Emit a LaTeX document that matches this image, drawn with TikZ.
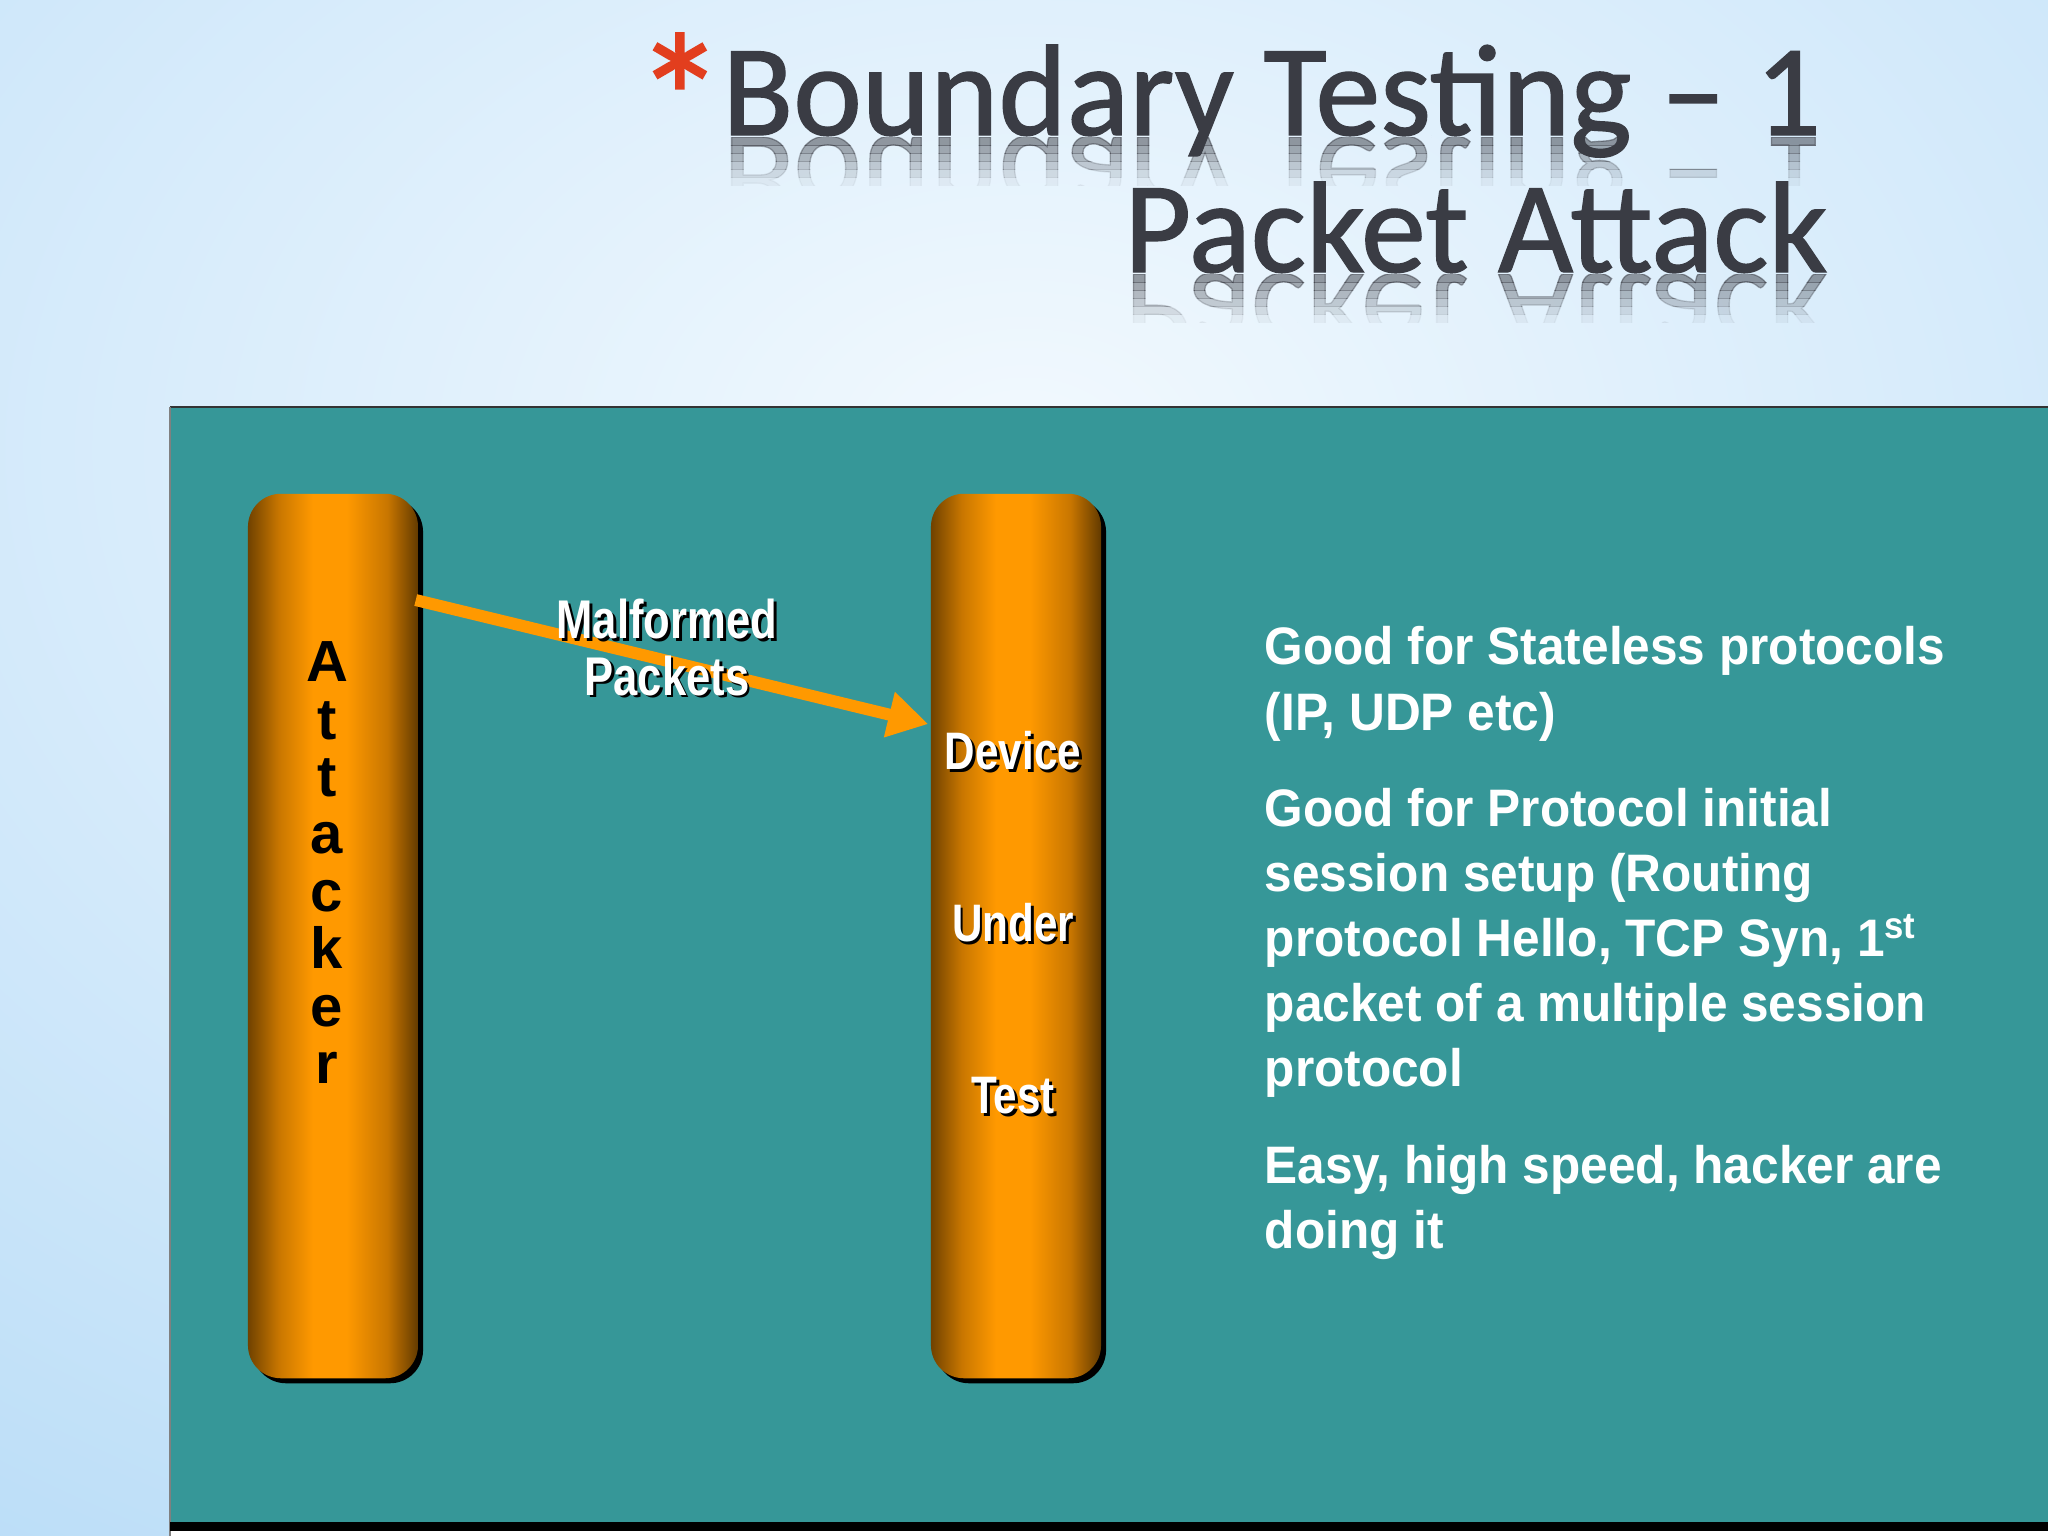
\documentclass[tikz,border=0pt]{standalone}
\usepackage{fontspec}
\setmainfont{Liberation Sans}
\newfontfamily\titlefont[FakeBold=1]{Carlito}
\newfontfamily\narrowfont[FakeStretch=0.8]{Liberation Sans}
\newfontfamily\bodyfont[FakeStretch=0.94]{Liberation Sans}
\usepackage{xcolor}
\usetikzlibrary{arrows.meta, positioning, calc, shadows}

\definecolor{bgblue}{RGB}{166,211,245}
\definecolor{bglight}{RGB}{242,249,254}
\definecolor{panelteal}{RGB}{54,151,152}
\definecolor{pilldark}{RGB}{112,66,0}
\definecolor{pillmid}{RGB}{200,118,0}
\definecolor{pillorange}{RGB}{255,153,0}
\definecolor{pilldarkR}{RGB}{98,58,0}
\definecolor{titlegray}{RGB}{58,60,68}
\definecolor{starred}{RGB}{226,62,30}

\pgfdeclarehorizontalshading{pillshade}{100bp}{
  color(0bp)=(pilldark); color(25bp)=(pilldark); color(34bp)=(pillmid);
  color(44bp)=(pillorange); color(54bp)=(pillorange); color(66bp)=(pillmid);
  color(75bp)=(pilldarkR); color(100bp)=(pilldarkR)}

% white text with a black drop shadow
\newcommand{\shtext}[1]{\leavevmode\rlap{\kern0.8pt\raisebox{-0.8pt}{\textcolor{black}{#1}}}#1}

\tikzset{
  pillar/.style = {rectangle, rounded corners=0.33cm, inner sep=0pt,
                   minimum width=1.7cm, minimum height=8.84cm, shading=pillshade,
                   drop shadow={shadow xshift=0.05cm, shadow yshift=-0.05cm, fill=black, opacity=1}},
  pkt/.style    = {draw=pillorange, line width=3.4pt, -{Triangle[length=0.4cm, width=0.44cm]}},
  titletxt/.style = {inner sep=0pt, text=titlegray, font=\titlefont\fontsize{37}{40}\selectfont},
  mirror/.style = {titletxt, yscale=-1, transform shape, anchor=base east},
  lbl/.style    = {inner sep=0pt, text=white, align=center,
                   font=\narrowfont\bfseries\fontsize{15.5}{16}\selectfont},
  bodytxt/.style = {inner sep=0pt, text=white, align=left,
                    font=\bodyfont\bfseries\fontsize{15}{18.5}\selectfont},
}

\begin{document}
\begin{tikzpicture}[x=0.01cm, y=-0.01cm]
  \useasboundingbox (0,0) rectangle (2048,1536);

  %% ===================== BACKGROUND =====================
  \begin{scope}
    \clip (0,0) rectangle (2048,1536);
    \fill[bgblue] (0,0) rectangle (2048,1536);
    \shade[inner color=bglight, outer color=bgblue] (-1600,-1400) rectangle (3648,2300);
  \end{scope}

  %% ===================== TITLE =====================
  \node[inner sep=0pt, text=starred, font=\titlefont\fontsize{52}{52}\selectfont]
       (star) at (680,98) {*};

  % reflections, fading out in bands
  \foreach \k [evaluate=\k as \op using 0.5-0.09*\k] in {0,...,5} {
    \begin{scope}
      \clip (600,{137+8*\k}) rectangle (1900,{145.4+8*\k});
      \node[mirror, text opacity=\op] at (1822,137) {Boundary Testing \textendash{} 1};
    \end{scope}
    \begin{scope}
      \clip (1000,{274+8*\k}) rectangle (1900,{282.4+8*\k});
      \node[mirror, text opacity=\op] at (1828,274) {Packet Attack};
    \end{scope}
  }

  \node[titletxt, anchor=base east] (title1) at (1822,135) {Boundary Testing \textendash{} 1};
  \node[titletxt, anchor=base east] (title2) at (1828,272) {Packet Attack};

  %% ===================== PANEL =====================
  \fill[panelteal] (170,407) rectangle (2048,1522);
  \draw[black!80, line width=0.4pt] (170,407) -- (2048,407);
  \draw[black!50, line width=0.4pt] (170,407) -- (170,1536);
  \fill[black] (170,1522) rectangle (2048,1531);
  \fill[white] (171,1531) rectangle (2048,1536);

  %% ===================== PILLARS =====================
  \node[pillar] (attacker) at (333,936) {};
  \node[pillar] (dut)      at (1016,936) {};

  \node[inner sep=0pt, align=center, anchor=north,
        font=\bfseries\fontsize{16.5}{16.33}\selectfont]
       (atklbl) at (327,641) {A\\t\\t\\a\\c\\k\\e\\r};

  \node[lbl, anchor=north, font=\narrowfont\bfseries\fontsize{15}{48.9}\selectfont]
       (dutlbl) at (1013,731) {\shtext{Device}\\\shtext{Under}\\\shtext{Test}};

  %% Packet arrow
  \draw[pkt] ($(attacker.north east)+(-3,107)$) -- ($(dut.north west)+(-2,231)$)
       node[lbl, pos=0.49, yshift=0.12cm] (malf) {\shtext{Malformed}\\\shtext{Packets}};

  %% ===================== NOTES =====================
  \node[bodytxt, anchor=north west] (notes) at (1264,626)
       {Good for Stateless protocols\\
        (IP, UDP etc)\\[9pt]
        Good for Protocol initial\\
        session setup (Routing\\
        protocol Hello, TCP Syn, 1\textsuperscript{st}\\
        packet of a multiple session\\
        protocol\\[9pt]
        Easy, high speed, hacker are\\
        doing it};

\end{tikzpicture}
\end{document}
